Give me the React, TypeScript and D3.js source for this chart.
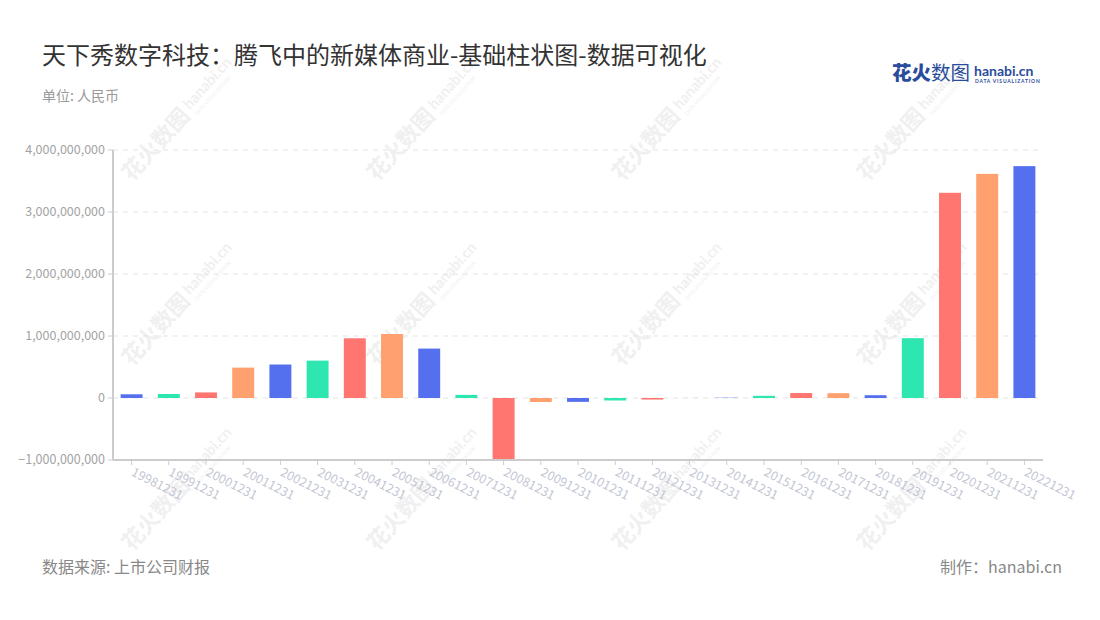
import React from "react";
import * as d3 from "d3";

const categories = [
  "19981231", "19991231", "20001231", "20011231", "20021231", "20031231", "20041231",
  "20051231", "20061231", "20071231", "20081231", "20091231", "20101231", "20111231",
  "20121231", "20131231", "20141231", "20151231", "20161231", "20171231", "20181231",
  "20191231", "20201231", "20211231", "20221231",
];
const values = [
  60e6, 65e6, 90e6, 490e6, 540e6, 603e6, 963e6,
  1032e6, 797e6, 50e6, -995e6, -65e6, -62e6, -40e6,
  -25e6, 1e6, 5e6, 35e6, 80e6, 78e6, 45e6,
  965e6, 3310e6, 3615e6, 3740e6,
];
const yTicks = [-1e9, 0, 1e9, 2e9, 3e9, 4e9];
const palette = ["#5470EF", "#2EE6B0", "#FF7670", "#FFA16F"];

const W = 1100, H = 620;
const left = 113, right = 1043, top = 150, bottom = 460;

export default function App() {
  const x = d3.scaleBand<string>().domain(categories).range([left, right]).paddingInner(0.41).paddingOuter(0.205);
  const xc = d3.scaleBand<string>().domain(categories).range([left, right]);
  const y = d3.scaleLinear().domain([-1e9, 4e9]).range([bottom, top]);
  const fmt = d3.format(",");
  const wm: { x: number; y: number }[] = [];
  for (let j = -1; j <= 1; j++) for (let i = 0; i < 4; i++) wm.push({ x: 132 + 245 * i, y: 367 + 185 * j });
  const font = "'Noto Sans CJK SC', 'Noto Sans', sans-serif";
  return (
    <svg width={W} height={H} style={{ position: "absolute", left: 0, top: 0, fontFamily: font }}>
      <rect width={W} height={H} fill="#fff" />
      {/* watermarks */}
      {wm.map((p, i) => (
        <g key={i} transform={`translate(${p.x},${p.y}) rotate(-48)`} fill="#f0f0f0">
          <text x={0} y={0} fontSize={22} fontWeight={700}>花火数图</text>
          <text x={92} y={-5} fontSize={15} fontWeight={700} fontFamily="Lato, sans-serif">hanabi.cn</text>
          <text x={93} y={4} fontSize={5} fontFamily="Lato, sans-serif">DATA VISUALIZATION</text>
        </g>
      ))}
      <text x={42} y={64} fontSize={24} fill="#333">天下秀数字科技：腾飞中的新媒体商业-基础柱状图-数据可视化</text>
      <text x={42} y={101} fontSize={14} fill="#999">单位: 人民币</text>
      {/* logo */}
      <g>
        <text x={892} y={80} fontSize={19.5} fontWeight={900} fill="#2A4C9C">花火</text>
        <text x={931} y={80} fontSize={19.5} fill="#2A4C9C">数图</text>
        <text x={974} y={76} fontSize={14} fontWeight={700} fill="#2A4C9C" fontFamily="Lato, sans-serif">hanabi.cn</text>
        <text x={975} y={82.5} fontSize={5} fontWeight={700} fill="#2A4C9C" fontFamily="Lato, sans-serif" letterSpacing={0.8}>DATA VISUALIZATION</text>
      </g>
      {/* grid */}
      {yTicks.map((t) => (
        <g key={t}>
          {t !== -1e9 && (
            <line x1={left} x2={right} y1={y(t)} y2={y(t)} stroke="#e3e3e3" strokeDasharray="5,5" />
          )}
          <line x1={left - 5} x2={left} y1={y(t)} y2={y(t)} stroke="#ccc" />
          <text x={left - 8} y={y(t)} dy="0.35em" textAnchor="end" fontSize={12.5} fill="#a3a3a3">{fmt(t)}</text>
        </g>
      ))}
      {/* bars */}
      {categories.map((c, i) => {
        const v = values[i];
        const y0 = y(0), y1 = y(v);
        return (
          <rect key={c} x={x(c)} width={x.bandwidth()} y={Math.min(y0, y1)} height={Math.abs(y1 - y0)} fill={palette[i % 4]} />
        );
      })}
      {/* axes */}
      <line x1={left} x2={left} y1={top} y2={bottom} stroke="#ccc" strokeWidth={2} />
      <line x1={left} x2={right} y1={bottom} y2={bottom} stroke="#ccc" strokeWidth={2} />
      {categories.map((c) => {
        const cx = (xc(c) as number) + xc.bandwidth() / 2;
        return (
          <g key={c}>
            <line x1={cx} x2={cx} y1={bottom} y2={bottom + 5} stroke="#ccc" />
            <text transform={`translate(${cx - 1},${bottom + 15}) rotate(27)`} fontSize={12.5} fill="#c3c6d4">{c}</text>
          </g>
        );
      })}
      <text x={42} y={573} fontSize={16} fill="#888">数据来源: 上市公司财报</text>
      <text x={1062} y={573} fontSize={16} fill="#888" textAnchor="end">制作：hanabi.cn</text>
    </svg>
  );
}
